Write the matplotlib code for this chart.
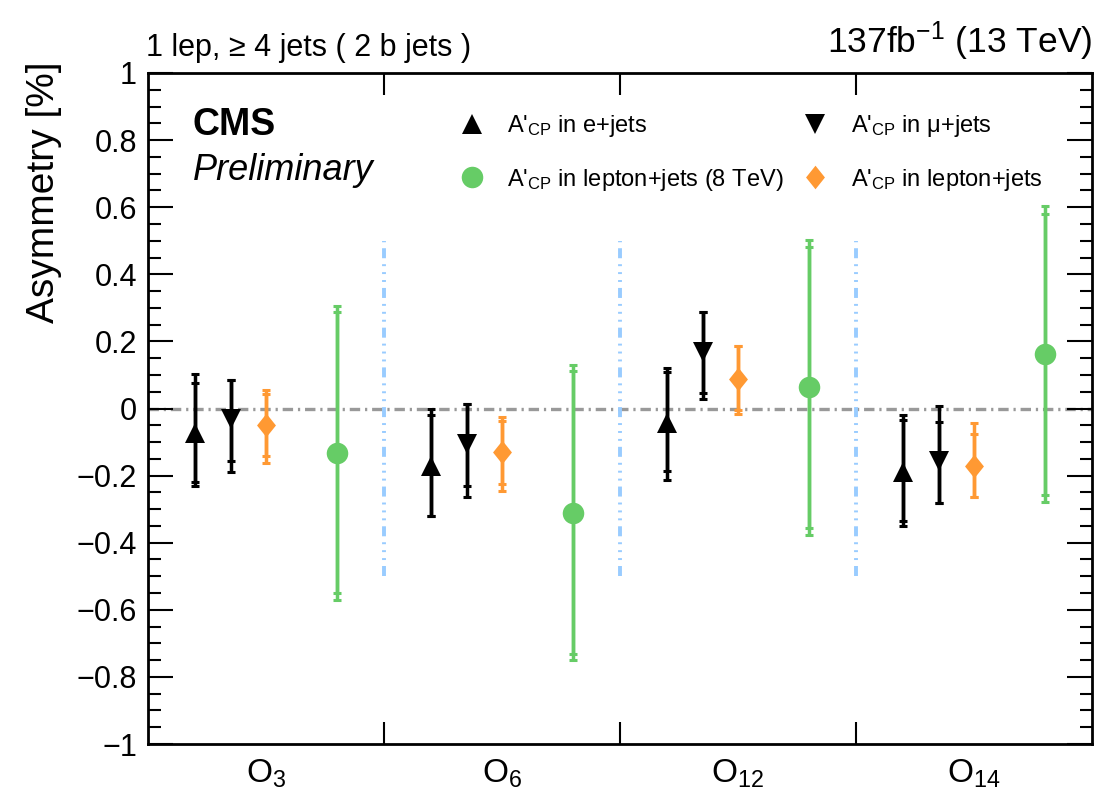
import numpy as np
import matplotlib
matplotlib.use("Agg")
import matplotlib.pyplot as plt
from matplotlib.lines import Line2D
from matplotlib.path import Path

plt.rcParams['font.family'] = ['Liberation Sans', 'DejaVu Sans']
plt.rcParams['mathtext.fontset'] = 'custom'
plt.rcParams['mathtext.rm'] = 'Liberation Sans'
plt.rcParams['mathtext.it'] = 'Liberation Sans:italic'
plt.rcParams['mathtext.bf'] = 'Liberation Sans:bold'
plt.rcParams['lines.scale_dashes'] = False

# ---------------- data ----------------
observables = [r'$\mathrm{O}_{3}$', r'$\mathrm{O}_{6}$', r'$\mathrm{O}_{12}$', r'$\mathrm{O}_{14}$']

# e+jets
e_val = [-0.074, -0.171, -0.043, -0.190]
e_stat_dn = [0.145, 0.148, 0.143, 0.144]
e_stat_up = [0.151, 0.153, 0.152, 0.157]
e_tot_dn = [0.157, 0.148, 0.169, 0.159]
e_tot_up = [0.177, 0.171, 0.165, 0.172]

# mu+jets
mu_val = [-0.031, -0.107, 0.169, -0.157]
mu_stat_dn = [0.124, 0.125, 0.124, 0.126]
mu_stat_up = [0.117, 0.119, 0.119, 0.117]
mu_tot_dn = [0.157, 0.156, 0.141, 0.126]
mu_tot_up = [0.117, 0.119, 0.119, 0.163]

# lepton+jets (13 TeV)
lj_val = [-0.050, -0.131, 0.089, -0.170]
lj_stat_dn = [0.092, 0.093, 0.092, 0.095]
lj_stat_up = [0.094, 0.093, 0.098, 0.094]
lj_tot_dn = [0.112, 0.116, 0.106, 0.095]
lj_tot_up = [0.104, 0.105, 0.098, 0.127]

# lepton+jets (8 TeV)
l8_val = [-0.132, -0.311, 0.063, 0.161]
l8_stat_dn = [0.417, 0.420, 0.419, 0.419]
l8_stat_up = [0.421, 0.424, 0.419, 0.420]
l8_tot_dn = [0.438, 0.438, 0.440, 0.441]
l8_tot_up = [0.439, 0.442, 0.438, 0.442]

# ---------------- figure ----------------
W, H = 1107, 799
fig = plt.figure(figsize=(W / 100, H / 100), dpi=100)
ax = fig.add_axes([148 / W, 1 - 744 / H, (1092 - 148) / W, (744 - 73) / H])

n = len(observables)
centers = np.arange(n) + 0.5
offsets = {'e': -0.30, 'mu': -0.15, 'lj': 0.0, 'l8': 0.30}

BLACK = '#000000'
GREEN = '#66cc66'
ORANGE = '#ff9933'

diamond = Path([(0, 1), (0.8, 0), (0, -1), (-0.8, 0), (0, 1)],
               [Path.MOVETO, Path.LINETO, Path.LINETO, Path.LINETO, Path.CLOSEPOLY])

MS_TRI, MS_CIRC, MS_DIA = 14.0, 15.5, 17.0

series = [
    ('e', e_val, e_stat_dn, e_stat_up, e_tot_dn, e_tot_up, BLACK, '^', MS_TRI),
    ('mu', mu_val, mu_stat_dn, mu_stat_up, mu_tot_dn, mu_tot_up, BLACK, 'v', MS_TRI),
    ('lj', lj_val, lj_stat_dn, lj_stat_up, lj_tot_dn, lj_tot_up, ORANGE, diamond, MS_DIA),
    ('l8', l8_val, l8_stat_dn, l8_stat_up, l8_tot_dn, l8_tot_up, GREEN, 'o', MS_CIRC),
]

for key, val, sdn, sup, tdn, tup, col, mk, ms in series:
    x = centers + offsets[key]
    ax.errorbar(x, val, yerr=[tdn, tup], fmt='none', ecolor=col, elinewidth=2.5,
                capsize=2.8, capthick=2.2, zorder=3)
    ax.errorbar(x, val, yerr=[sdn, sup], fmt='none', ecolor=col, elinewidth=2.5,
                capsize=2.8, capthick=2.2, zorder=3)
    ax.plot(x, val, linestyle='none', marker=mk, markersize=ms, color=col,
            markeredgewidth=0, zorder=4)

# zero line and separators
ax.axhline(0, color='#999999', lw=2.4, linestyle=(0, (7.5, 3.5, 1.6, 3.5)), zorder=1)
seps = np.arange(1, n)
ax.vlines(seps, -0.5, 0.5, colors='#99ccff', lw=2.8,
          linestyles=[(0, (7.2, 4.3, 1.4, 4.3, 1.4, 4.3, 1.4, 4.3))], zorder=1)

# axes
ax.set_xlim(0, n)
ax.set_ylim(-1, 1)
yt = np.round(np.arange(-1, 1.001, 0.2), 1)
ax.set_yticks(yt)
ax.set_yticklabels([('%g' % v).replace('-', '\u2212') if abs(v) > 1e-9 else '0' for v in yt])
ax.set_yticks(np.round(np.arange(-1, 1.001, 0.05), 2), minor=True)
ax.set_xticks(centers)
ax.set_xticklabels(observables)
ax.set_xticks(seps, minor=True)

ax.tick_params(axis='y', which='major', direction='in', length=18, width=1.5,
               right=True, labelsize=22, pad=8)
ax.tick_params(axis='y', which='minor', direction='in', length=9, width=1.5, right=True)
ax.tick_params(axis='x', which='major', length=0, labelsize=24, pad=10)
ax.tick_params(axis='x', which='minor', direction='in', length=16, width=1.5, top=True)
for s in ax.spines.values():
    s.set_linewidth(2.0)

ax.set_ylabel('Asymmetry [%]', fontsize=28, loc='top')
ax.yaxis.set_label_coords(-0.091, 1.017)

# texts
fig.text(146 / W, 1 - 56 / H, '1 lep, \u2265 4 jets ( 2 b jets )', fontsize=22,
         ha='left', va='baseline')
fig.text(1092 / W, 1 - 53 / H, r'137fb$^{-1}$ (13 TeV)', fontsize=25.5,
         ha='right', va='baseline')
ax.text(193 / W, 1 - 135 / H, 'CMS', fontsize=27, fontweight='bold',
        transform=fig.transFigure, ha='left', va='baseline')
ax.text(193 / W, 1 - 180 / H, 'Preliminary', fontsize=26, style='italic',
        transform=fig.transFigure, ha='left', va='baseline')

# legend
handles = [
    Line2D([], [], linestyle='none', marker='^', color=BLACK, markersize=MS_TRI, markeredgewidth=0),
    Line2D([], [], linestyle='none', marker='o', color=GREEN, markersize=MS_CIRC, markeredgewidth=0),
    Line2D([], [], linestyle='none', marker='v', color=BLACK, markersize=MS_TRI, markeredgewidth=0),
    Line2D([], [], linestyle='none', marker=diamond, color=ORANGE, markersize=MS_DIA, markeredgewidth=0),
]
labels = [
    r"A'$_{\mathrm{CP}}$ in e+jets",
    r"A'$_{\mathrm{CP}}$ in lepton+jets (8 TeV)",
    r"A'$_{\mathrm{CP}}$ in $\mathrm{\mu}$+jets",
    r"A'$_{\mathrm{CP}}$ in lepton+jets",
]
ax.legend(handles, labels, ncol=2, frameon=False, fontsize=17,
          loc='upper left', bbox_to_anchor=(455 / W, 1 - 113 / H),
          bbox_transform=fig.transFigure, handlelength=1.4, handletextpad=0.8,
          columnspacing=0.65, labelspacing=1.17, borderpad=0, borderaxespad=0)

fig.savefig('out.png', dpi=100)
